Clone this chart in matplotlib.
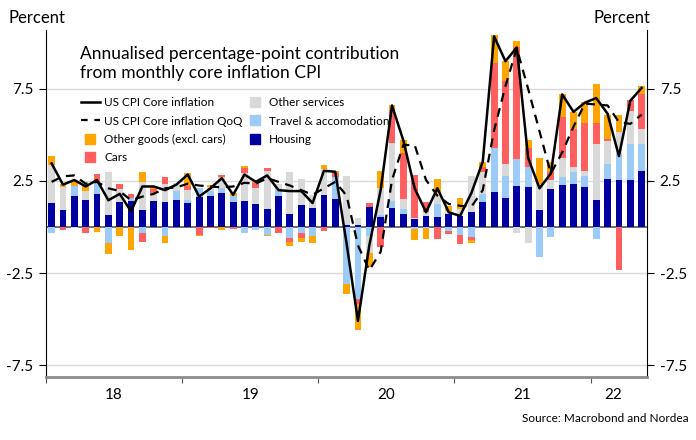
import numpy as np
import matplotlib.pyplot as plt
from matplotlib.lines import Line2D

plt.rcParams['font.family'] = ['Liberation Sans Narrow', 'Lato', 'DejaVu Sans']
plt.rcParams['axes.unicode_minus'] = False

# Monthly contributions, Jan 2018 - May 2022 (annualised, pp)
housing = [1.29, 0.92, 1.68, 1.45, 1.81, 0.65, 1.38, 1.4, 0.92, 1.41, 1.36, 1.47,
           1.29, 1.61, 1.68, 1.83, 1.38, 1.43, 1.23, 0.96, 1.7, 0.69, 1.2, 1.05,
           1.74, 1.52, 0.13, 0.1, 1.1, 0.54, 1.03, 0.69, 0.45, 0.6, 0.54, 0.71,
           0.6, 0.8, 1.38, 1.88, 1.56, 2.25, 2.16, 0.92, 2.06, 2.27, 2.36, 2.18,
           1.46, 2.6, 2.55, 2.55, 3.03]
travel = [-0.34, 0, 0.54, 0, 0.56, -0.89, 0, 0.18, -0.31, 0, -0.49, 0.5,
          0.18, 0.49, 0.27, 0.31, 0.31, -0.3, -0.15, -0.43, 0.31, -0.62, -0.31, -0.49,
          0, 1.18, -3.1, -3.9, -0.5, 0.1, 0.36, 0.27, -0.1, -0.05, 0.72, -0.2,
          -0.45, -0.53, 0.4, 2.43, 1.23, 1.43, 1.12, -1.65, -0.55, 0.42, 0.63, 0.6,
          -0.65, 0.81, 1.44, 1.95, 1.46]
other_services = [2.08, 1.25, -0.05, 0.5, 0, 2.32, 0.69, 0, 1.54, 0.42, 0.96, 0.43,
                  0.54, 0, 0.2, 0.56, 0, 1.49, 0.87, 2.1, 0.35, 2.28, 1.39, 0.69,
                  1.39, 0, 2.63, 0.4, -0.9, 1.45, 3.17, 0.58, 0.05, 0.2, 0.6, 0.15,
                  0.4, 1.97, 1.23, 0, 0.62, -0.31, -0.89, 1.4, 0.5, 1.08, 0.27, 0.27,
                  3.03, 1.26, 1.17, 1.8, 0.85]
cars = [0, -0.16, 0, -0.31, 0.49, 0, 0.25, 0.22, -0.49, 0.24, 0.42, 0,
        0.22, -0.43, -0.05, 0.13, -0.1, 0.27, 0.27, 0.13, -0.34, -0.18, -0.27, 0,
        -0.2, 0.22, 0, -0.3, 0.2, -1.09, 1.78, 2.48, 2.3, 0.58, -0.63, -0.16,
        -0.5, -0.18, 0.27, 4.58, 4.49, 6.09, 1.0, 0, 0.45, 2.2, 2.08, 2.62,
        1.16, 0.13, -2.33, 0.58, 1.86]
other_goods = [0.49, 0.15, 0.3, 0.38, -0.25, -0.6, -0.49, -1.25, 0.54, 0.13, -0.36, 0,
               0.69, -0.05, 0.15, -0.15, 0.15, 0.13, 0.18, -0.05, 0, -0.24, -0.22, -0.4,
               0.24, 0.13, -0.56, -1.4, -0.8, 0.94, 0.31, 0.72, -0.6, -0.6, 0.72, 0.3,
               0.55, -0.18, 0.27, 1.54, 1.09, 0.34, 0.42, 1.4, 0.5, 1.23, 0.9, 1.12,
               2.09, 1.26, 0.9, 0, 0.43]

core = [3.45, 2.3, 2.55, 2.2, 2.55, 1.45, 1.8, 0.85, 2.2, 2.2, 2.0, 2.3,
        2.85, 1.65, 2.1, 2.65, 1.75, 2.85, 2.45, 2.8, 2.0, 1.95, 1.95, 1.3,
        3.05, 3.0, -0.9, -5.1, -1.0, 2.0, 6.6, 4.7, 2.1, 0.8, 2.1, 0.8,
        0.6, 1.85, 3.55, 10.35, 9.0, 9.75, 3.75, 2.1, 2.9, 7.2, 6.25, 6.75,
        7.0, 6.15, 3.85, 6.85, 7.55]
core_qoq = [2.45, 2.75, 2.8, 2.35, 2.45, 2.1, 1.95, 1.45, 1.65, 1.8, 2.1, 2.15,
            2.35, 2.25, 2.2, 2.15, 2.2, 2.4, 2.35, 2.65, 2.45, 2.25, 2.0, 1.75,
            2.1, 2.45, 1.7, -1.0, -2.35, -1.35, 2.55, 4.45, 4.45, 2.55, 1.7, 1.25,
            1.15, 1.1, 2.0, 5.25, 7.65, 9.7, 7.5, 5.2, 2.9, 4.05, 5.45, 6.7,
            6.65, 6.6, 5.7, 5.6, 6.1]

year_labels = ["18", "19", "20", "21", "22"]

series = [
    ("Housing", housing, "#0000a0"),
    ("Travel & accomodation", travel, "#9dcbf7"),
    ("Other services", other_services, "#d9d9d9"),
    ("Cars", cars, "#ff5f5f"),
    ("Other goods (excl. cars)", other_goods, "#ffa500"),
]

fig = plt.figure(figsize=(6.96, 4.4), dpi=100)
ax = fig.add_axes([0.066, 0.143, 0.864, 0.789])

x = np.arange(len(housing))

# grid + zero line
for g in [-7.5, -2.5, 2.5, 7.5]:
    ax.axhline(g, color="#d9d9d9", lw=1.0, zorder=0)
ax.axhline(0, color="#555555", lw=1.2, zorder=1)

# stacked bars, positives up and negatives down
pos_base = np.zeros(len(x))
neg_base = np.zeros(len(x))
for name, vals, col in series:
    v = np.array(vals, dtype=float)
    base = np.where(v >= 0, pos_base, neg_base)
    ax.bar(x, v, bottom=base, width=0.6, color=col, zorder=2)
    pos_base += np.clip(v, 0, None)
    neg_base += np.clip(v, None, 0)

ax.plot(x, core, color="black", lw=1.8, zorder=4)
ax.plot(x, core_qoq, color="black", lw=1.6, ls=(0, (4, 3)), zorder=4)

ax.set_xlim(-0.5, len(x) - 0.5)
ax.set_ylim(-8.15, 10.7)

# axes styling
ax.spines["top"].set_visible(False)
ax.spines["left"].set_color("black")
ax.spines["right"].set_color("black")
ax.spines["bottom"].set_color("#8c8c8c")
ax.spines["bottom"].set_linewidth(2)

ax.set_yticks([-7.5, -2.5, 2.5, 7.5])
ax.set_yticklabels(["-7.5", "-2.5", "2.5", "7.5"])
ax.tick_params(axis="y", left=True, right=True, labelleft=True, labelright=True,
               direction="out", length=5, labelsize=11, pad=4)

year_starts = np.arange(-0.5, len(x), 12)
ax.set_xticks(year_starts)
ax.set_xticklabels([])
ax.set_xticks([5.5, 17.5, 29.5, 41.5, 49.5], minor=True)
ax.set_xticklabels(year_labels, minor=True)
ax.tick_params(axis="x", which="major", direction="out", length=4, color="#555555")
ax.tick_params(axis="x", which="minor", length=0, labelsize=11, pad=8)

# legend
handles = [
    Line2D([], [], color="black", lw=1.8),
    Line2D([], [], color="black", lw=1.6, ls=(0, (3, 3))),
    Line2D([], [], marker="s", ls="", color="#ffa500", markersize=7),
    Line2D([], [], marker="s", ls="", color="#ff5f5f", markersize=7),
    Line2D([], [], marker="s", ls="", color="#d9d9d9", markersize=7),
    Line2D([], [], marker="s", ls="", color="#9dcbf7", markersize=7),
    Line2D([], [], marker="s", ls="", color="#0000a0", markersize=7),
]
labels = ["US CPI Core inflation", "US CPI Core inflation QoQ", "Other goods (excl. cars)",
          "Cars", "Other services", "Travel & accomodation", "Housing"]
ax.legend(handles, labels, ncol=2, loc="upper left", bbox_to_anchor=(0.058, 0.806),
          frameon=False, fontsize=8.5, handlelength=1.6, handletextpad=0.4,
          columnspacing=0.2, labelspacing=0.62, borderpad=0, borderaxespad=0)

# texts
fig.text(0.115, 0.855, "Annualised percentage-point contribution\nfrom monthly core inflation CPI",
         fontsize=12.5, va="center", ha="left", linespacing=1.2)
fig.text(0.012, 0.958, "Percent", fontsize=12, va="center", ha="left")
fig.text(0.934, 0.958, "Percent", fontsize=12, va="center", ha="right")
fig.text(0.99, 0.05, "Source: Macrobond and Nordea", fontsize=8.5, va="center", ha="right")

fig.savefig("out.png", dpi=100)
